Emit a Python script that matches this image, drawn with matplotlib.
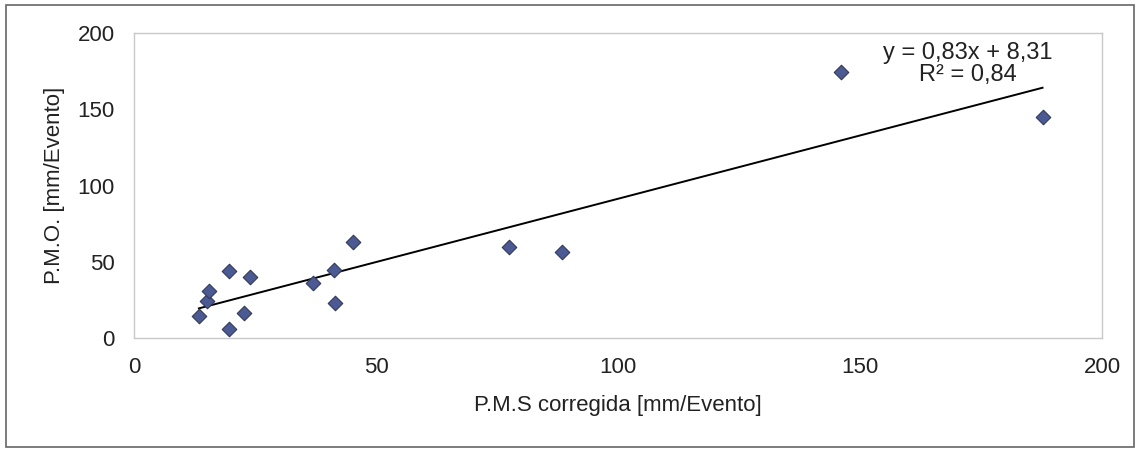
import matplotlib.pyplot as plt
from matplotlib.patches import Rectangle

# P.M.S corregida vs P.M.O. per event
pms = [13.4, 15.0, 15.4, 19.6, 19.7, 22.7, 24.0, 37.0, 41.4, 41.5, 45.2, 77.5, 88.5, 146.0, 187.7]
pmo = [14.4, 24.5, 31.0, 44.0, 5.9, 16.6, 40.0, 36.3, 44.6, 23.0, 63.0, 59.5, 56.2, 174.6, 145.0]
slope, intercept = 0.83, 8.31
xticks = [0, 50, 100, 150, 200]
yticks = [0, 50, 100, 150, 200]

plt.rcParams['font.family'] = ['Liberation Sans', 'DejaVu Sans']

fig = plt.figure(figsize=(11.38, 4.49), dpi=100)
ax = fig.add_axes([0.1178, 0.2472, 0.8506, 0.6793])

ax.scatter(pms, pmo, marker='D', s=55, color='#4b5a92', edgecolors='#333a58', linewidths=0.8, zorder=3)

x0, x1 = min(pms), max(pms)
ax.plot([x0, x1], [slope * x0 + intercept, slope * x1 + intercept], color='black', lw=1.4, zorder=2)

ax.text(172.3, 194, 'y = 0,83x + 8,31\nR² = 0,84', ha='center', va='top', fontsize=17, linespacing=1.0, color='#222222')

ax.set_xlim(0, 200)
ax.set_ylim(0, 200)
ax.set_xticks(xticks)
ax.set_yticks(yticks)
ax.tick_params(axis='x', length=0, labelsize=16, pad=14, colors='#222222')
ax.tick_params(axis='y', length=0, labelsize=16, pad=14, colors='#222222')
for s in ax.spines.values():
    s.set_color('#c8c8c8')
    s.set_linewidth(1.0)

ax.set_xlabel('P.M.S corregida [mm/Evento]', fontsize=16, color='#222222', labelpad=12)
ax.set_ylabel('P.M.O. [mm/Evento]', fontsize=16, color='#222222', labelpad=9)

fig.patches.append(Rectangle((6 / 1138, 2 / 449), 1128 / 1138, 442 / 449, transform=fig.transFigure,
                             fill=False, edgecolor='#666666', lw=1.2))

fig.savefig('out.png', dpi=100)
